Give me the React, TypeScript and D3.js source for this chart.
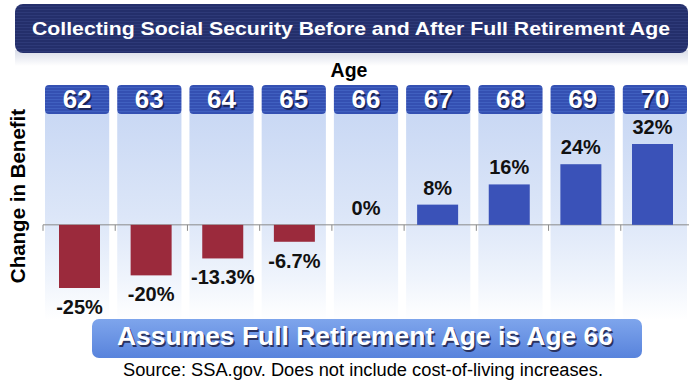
import React from "react";
import * as d3 from "d3";

const ages = ["62", "63", "64", "65", "66", "67", "68", "69", "70"];
const changes = [-25, -20, -13.3, -6.7, 0, 8, 16, 24, 32];
const labels = ["-25%", "-20%", "-13.3%", "-6.7%", "0%", "8%", "16%", "24%", "32%"];
const title = "Collecting Social Security Before and After Full Retirement Age";
const xTitle = "Age";
const yTitle = "Change in Benefit";
const note = "Assumes Full Retirement Age is Age 66";
const source = "Source: SSA.gov. Does not include cost-of-living increases.";

const W = 691;
const H = 381;
const FONT = "'Liberation Sans', Arial, sans-serif";

export default function App() {
  const colScale = d3.scaleBand<string>().domain(ages).range([43, 693]).padding(0);
  const barScale = d3.scalePoint<string>().domain(ages).range([79.5, 652.5]);
  const y = d3.scaleLinear().domain([-25, 32]).range([288, 144]);
  const y0 = y(0);
  const step = colScale.step();
  const colW = step - 8;
  const barW = 41;

  return (
    <svg
      width={W}
      height={H}
      style={{ position: "absolute", left: 0, top: 0, background: "#fff" }}
      fontFamily={FONT}
    >
      <defs>
        <pattern id="stripesNavy" width="4" height="3" patternUnits="userSpaceOnUse">
          <rect width="4" height="3" fill="#242f6b" />
          <rect width="4" height="1" fill="#2e3a78" />
        </pattern>
        <pattern id="stripesBlue" width="4" height="3" patternUnits="userSpaceOnUse">
          <rect width="4" height="3" fill="#3450b2" />
          <rect width="4" height="1" fill="#4060c0" />
        </pattern>
        <linearGradient id="colBg" x1="0" y1="0" x2="0" y2="1">
          <stop offset="0" stopColor="#c9d8f4" />
          <stop offset="0.5" stopColor="#dce6f8" />
          <stop offset="0.8" stopColor="#eff4fc" />
          <stop offset="1" stopColor="#ffffff" />
        </linearGradient>
        <linearGradient id="noteBg" x1="0" y1="0" x2="0" y2="1">
          <stop offset="0" stopColor="#7ea5ec" />
          <stop offset="1" stopColor="#5883dc" />
        </linearGradient>
        <linearGradient id="shadowG" x1="0" y1="0" x2="0" y2="1">
          <stop offset="0" stopColor="#d8dce8" />
          <stop offset="1" stopColor="#ffffff" />
        </linearGradient>
      </defs>

      {/* title banner */}
      <rect x={15} y={50} width={673} height={16} fill="url(#shadowG)" />
      <rect x={15} y={4} width={673} height={49} rx={8} fill="url(#stripesNavy)" />
      <text
        x={351}
        y={35}
        textAnchor="middle"
        fill="#fff"
        fontWeight="bold"
        fontSize={19}
        textLength={638}
        lengthAdjust="spacingAndGlyphs"
      >
        {title}
      </text>

      {/* x title */}
      <text x={349} y={77} textAnchor="middle" fill="#000" fontWeight="bold" fontSize={19.5}>
        {xTitle}
      </text>

      {/* column backgrounds */}
      {ages.map((a) => (
        <rect
          key={"bg" + a}
          x={(colScale(a) as number) + 2}
          y={112}
          width={colW}
          height={208}
          fill="url(#colBg)"
        />
      ))}

      {/* header boxes */}
      {ages.map((a) => {
        const cx = (colScale(a) as number) + 2 + colW / 2;
        return (
          <g key={"hd" + a}>
            <rect
              x={(colScale(a) as number) + 2}
              y={85}
              width={colW}
              height={29}
              rx={4}
              fill="url(#stripesBlue)"
            />
            <text x={cx + 1.5} y={109.5} textAnchor="middle" fill="#1a2456" fontWeight="bold" fontSize={26}>
              {a}
            </text>
            <text x={cx} y={108} textAnchor="middle" fill="#fff" fontWeight="bold" fontSize={26}>
              {a}
            </text>
          </g>
        );
      })}

      {/* axis */}
      <line x1={43} x2={689} y1={y0} y2={y0} stroke="#8a8a8a" strokeWidth={1} />
      {ages.concat(["end"]).map((a, i) => {
        const tx = 43 + i * step;
        return <line key={"tk" + i} x1={tx} x2={tx} y1={y0} y2={y0 + 6} stroke="#8a8a8a" strokeWidth={1} />;
      })}

      {/* bars */}
      {ages.map((a, i) => {
        const v = changes[i];
        const cx = barScale(a) as number;
        const top = Math.min(y(v), y0);
        const h = Math.abs(y(v) - y0);
        return (
          <g key={"bar" + a}>
            {h > 0 && (
              <rect x={cx - barW / 2} y={top} width={barW} height={h} fill={v < 0 ? "#9b2a3c" : "#3a52b8"} />
            )}
            <text
              x={cx}
              y={v < 0 ? y(v) + 26 : y(v) - 10}
              textAnchor="middle"
              fill="#111"
              fontWeight="bold"
              fontSize={20}
            >
              {labels[i]}
            </text>
          </g>
        );
      })}

      {/* y title */}
      <text
        transform={`translate(25,196) rotate(-90)`}
        textAnchor="middle"
        fill="#000"
        fontWeight="bold"
        fontSize={20.5}
      >
        {yTitle}
      </text>

      {/* note banner */}
      <rect x={92} y={319} width={550} height={39} rx={7} fill="url(#noteBg)" />
      <text
        x={366.5}
        y={346.5}
        textAnchor="middle"
        fill="#2a3360"
        fontWeight="bold"
        fontSize={26}
        textLength={496}
        lengthAdjust="spacingAndGlyphs"
      >
        {note}
      </text>
      <text
        x={365}
        y={345}
        textAnchor="middle"
        fill="#fff"
        fontWeight="bold"
        fontSize={26}
        textLength={496}
        lengthAdjust="spacingAndGlyphs"
      >
        {note}
      </text>

      {/* source */}
      <text
        x={363}
        y={376}
        textAnchor="middle"
        fill="#000"
        fontSize={18}
        textLength={480}
        lengthAdjust="spacingAndGlyphs"
      >
        {source}
      </text>
    </svg>
  );
}
